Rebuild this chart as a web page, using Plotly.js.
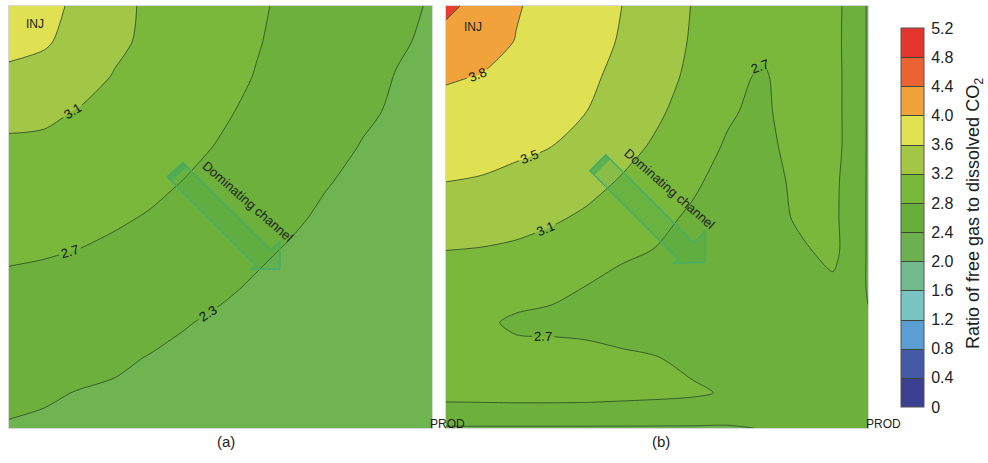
<!DOCTYPE html>
<html>
<head>
<meta charset="utf-8">
<script src="https://cdn.plot.ly/plotly-3.0.1.min.js"></script>
<style>html,body{margin:0;padding:0;background:#fff;}#chart{width:988px;height:463px;}</style>
</head>
<body>
<div id="chart"></div>
<script>
// Grid node positions (panel-relative units, origin at the injector corner)
const xGrid = [0, 35, 70, 105, 140, 175, 210, 245, 280, 315, 350, 385, 420];
const yGrid = [0, 35, 70, 105, 140, 175, 210, 245, 280, 315, 350, 385, 420];

// (a) ratio of free gas to dissolved CO2, rows top -> bottom
const ratioA = [
  [3.75, 3.60, 3.43, 3.20, 3.04, 2.94, 2.84, 2.74, 2.64, 2.54, 2.45, 2.36, 2.28],
  [3.60, 3.54, 3.38, 3.17, 3.03, 2.93, 2.82, 2.72, 2.62, 2.52, 2.43, 2.33, 2.26],
  [3.43, 3.38, 3.24, 3.08, 2.99, 2.89, 2.79, 2.69, 2.59, 2.49, 2.39, 2.29, 2.25],
  [3.20, 3.17, 3.08, 3.01, 2.93, 2.83, 2.74, 2.64, 2.54, 2.44, 2.34, 2.27, 2.22],
  [3.04, 3.03, 2.99, 2.93, 2.85, 2.77, 2.68, 2.58, 2.48, 2.38, 2.29, 2.25, 2.20],
  [2.94, 2.93, 2.89, 2.83, 2.77, 2.69, 2.60, 2.50, 2.41, 2.31, 2.26, 2.22, 2.17],
  [2.84, 2.82, 2.79, 2.74, 2.68, 2.60, 2.51, 2.42, 2.33, 2.27, 2.23, 2.19, 2.14],
  [2.74, 2.72, 2.69, 2.64, 2.58, 2.50, 2.42, 2.33, 2.28, 2.24, 2.20, 2.16, 2.11],
  [2.64, 2.62, 2.59, 2.54, 2.48, 2.41, 2.33, 2.28, 2.24, 2.20, 2.16, 2.12, 2.08],
  [2.54, 2.52, 2.49, 2.44, 2.38, 2.31, 2.27, 2.24, 2.20, 2.17, 2.13, 2.09, 2.05],
  [2.45, 2.43, 2.39, 2.34, 2.29, 2.26, 2.23, 2.20, 2.16, 2.13, 2.09, 2.05, 2.02],
  [2.36, 2.33, 2.29, 2.27, 2.25, 2.22, 2.19, 2.16, 2.12, 2.09, 2.05, 2.02, 2.02],
  [2.28, 2.26, 2.25, 2.22, 2.20, 2.17, 2.14, 2.11, 2.08, 2.05, 2.02, 2.02, 2.02]
];

// (b) ratio of free gas to dissolved CO2, rows top -> bottom
const ratioB = [
  [4.30, 4.05, 3.82, 3.71, 3.60, 3.50, 3.30, 3.09, 3.00, 2.95, 2.90, 2.85, 2.27],
  [4.05, 3.92, 3.79, 3.69, 3.59, 3.48, 3.28, 3.07, 2.96, 2.80, 2.88, 2.84, 2.27],
  [3.83, 3.79, 3.70, 3.65, 3.56, 3.42, 3.23, 3.03, 2.84, 2.64, 2.95, 2.85, 2.27],
  [3.71, 3.69, 3.65, 3.58, 3.50, 3.33, 3.15, 2.96, 2.75, 2.60, 2.95, 2.85, 2.27],
  [3.60, 3.59, 3.56, 3.50, 3.36, 3.21, 3.05, 2.87, 2.66, 2.55, 2.88, 2.85, 2.27],
  [3.50, 3.48, 3.42, 3.33, 3.21, 3.07, 2.92, 2.76, 2.57, 2.52, 2.79, 2.80, 2.27],
  [3.29, 3.28, 3.23, 3.15, 3.05, 2.92, 2.79, 2.65, 2.52, 2.50, 2.75, 2.79, 2.27],
  [3.09, 3.07, 3.03, 2.96, 2.87, 2.76, 2.68, 2.55, 2.50, 2.48, 2.62, 2.80, 2.27],
  [3.00, 2.98, 2.92, 2.80, 2.69, 2.58, 2.52, 2.48, 2.46, 2.45, 2.50, 2.62, 2.28],
  [2.90, 2.79, 2.62, 2.60, 2.57, 2.53, 2.50, 2.47, 2.45, 2.45, 2.47, 2.52, 2.32],
  [2.88, 2.86, 2.85, 2.85, 2.83, 2.76, 2.71, 2.60, 2.55, 2.50, 2.48, 2.47, 2.36],
  [2.85, 2.86, 2.87, 2.87, 2.86, 2.83, 2.80, 2.76, 2.66, 2.55, 2.50, 2.48, 2.42],
  [2.27, 2.27, 2.27, 2.27, 2.27, 2.27, 2.27, 2.27, 2.27, 2.31, 2.36, 2.40, 2.42]
];

// Colour bar levels and tick labels
const cbLevels = [0, 0.4, 0.8, 1.2, 1.6, 2.0, 2.4, 2.8, 3.2, 3.6, 4.0, 4.4, 4.8, 5.2];
const cbTickText = ['0', '0.4', '0.8', '1.2', '1.6', '2.0', '2.4', '2.8', '3.2', '3.6', '4.0', '4.4', '4.8', '5.2'];
const cbColors = ['#3b3f8f', '#4559a6', '#5a9ed4', '#78c5c4', '#70ba8e', '#6cb050', '#69af3b',
                  '#7ab83a', '#a3c645', '#e1e252', '#f1a23a', '#ea6433', '#e3352c'];

const FONT = 'Arial, "Liberation Sans", sans-serif';

const mainScale = [[0, '#6fb451'], [0.25, '#6db03b'], [0.5, '#7ab83b'], [0.75, '#a2c646'], [1, '#e0e152']];
const topScale = [[0, 'rgba(0,0,0,0)'], [0.5, '#f1a23a'], [1, '#e6402e']];
const lineStyle = {color: 'rgba(45,80,40,0.85)', width: 1, smoothing: 0.8};
const labelFont = {family: FONT, size: 13, color: '#111'};

function mainTrace(z, xa, ya) {
  return {
    type: 'contour', x: xGrid, y: yGrid, z: z, xaxis: xa, yaxis: ya,
    autocontour: false,
    contours: {start: 2.3, end: 3.5, size: 0.4, coloring: 'fill', showlines: true,
               showlabels: true, labelfont: labelFont},
    colorscale: mainScale, showscale: false, line: lineStyle, hoverinfo: 'skip'
  };
}

const traces = [
  mainTrace(ratioA, 'x', 'y'),
  mainTrace(ratioB, 'x2', 'y2'),
  {
    type: 'contour', x: xGrid, y: yGrid, z: ratioB, xaxis: 'x2', yaxis: 'y2',
    autocontour: false,
    contours: {start: 3.8, end: 4.2, size: 0.4, coloring: 'fill', showlines: true,
               showlabels: true, labelfont: labelFont},
    colorscale: topScale, showscale: false, line: lineStyle, hoverinfo: 'skip'
  },
  {
    type: 'contour', z: [cbLevels, cbLevels], xaxis: 'x3', yaxis: 'y3',
    zmin: 0, zmax: 5.2, zauto: false, autocontour: false,
    contours: {start: 0.4, end: 4.8, size: 0.4, coloring: 'fill', showlines: true},
    line: {color: '#3d4535', width: 1},
    colorscale: cbColors.map((c, i) => [i / 12, c]),
    opacity: 0, hoverinfo: 'skip', showscale: true,
    colorbar: {
      x: 901 / 988, xanchor: 'left', xpad: 0, ypad: 0,
      y: 1 - 217.5 / 463, yanchor: 'middle', len: 379 / 463, lenmode: 'fraction',
      thickness: 23, outlinecolor: '#555', outlinewidth: 1,
      tickmode: 'array', tickvals: cbLevels, ticktext: cbTickText,
      ticks: 'outside', ticklen: 4, tickcolor: 'rgba(0,0,0,0)',
      tickfont: {family: FONT, size: 16, color: '#222'},
      title: {text: ''}
    }
  }
];

const axBase = {range: [0, 420], showgrid: false, zeroline: false, showticklabels: false,
                ticks: '', showline: true, mirror: true, linecolor: '#d5d8d5', linewidth: 1, fixedrange: true};
const yBase = Object.assign({}, axBase, {range: [420, 0]});
const yDom = [1 - 428 / 463, 1 - 6 / 463];

const arrowA = 'M157,170 L245,258 L241,262 L269,262 L269,234 L260,243 L172.7,155.7 Z';
const arrowB = 'M143.3,164 L230.9,251.6 L227,256 L258,255 L258,224 L246.75,235.75 L159,148 Z';
const tailA = 'M157,170 L161,174 L176.7,159.7 L172.7,155.7 Z';
const tailB = 'M143.3,164 L147.3,168 L163,152 L159,148 Z';
const arrowStyle = {fillcolor: 'rgba(60,165,80,0.25)', line: {color: '#46ae68', width: 1.5}};
const tailStyle = {fillcolor: 'rgba(60,165,90,0.55)', line: {color: '#46ae68', width: 1}};

const ann = (o) => Object.assign({showarrow: false, xanchor: 'center', yanchor: 'middle',
                                  font: {family: FONT, size: 12, color: '#222'}}, o);

const layout = {
  width: 988, height: 463,
  margin: {l: 0, r: 0, t: 0, b: 0},
  paper_bgcolor: '#ffffff', plot_bgcolor: '#ffffff',
  showlegend: false, hovermode: false,
  xaxis: Object.assign({}, axBase, {domain: [9 / 988, 432 / 988], anchor: 'y'}),
  yaxis: Object.assign({}, yBase, {domain: yDom, anchor: 'x'}),
  xaxis2: Object.assign({}, axBase, {domain: [446 / 988, 868 / 988], anchor: 'y2'}),
  yaxis2: Object.assign({}, yBase, {domain: yDom, anchor: 'x2'}),
  xaxis3: {domain: [0.995, 1], visible: false, anchor: 'y3'},
  yaxis3: {domain: [0, 0.005], visible: false, anchor: 'x3'},
  shapes: [
    Object.assign({type: 'path', xref: 'x', yref: 'y', path: arrowA}, arrowStyle),
    Object.assign({type: 'path', xref: 'x', yref: 'y', path: tailA}, tailStyle),
    Object.assign({type: 'path', xref: 'x2', yref: 'y2', path: arrowB}, arrowStyle),
    Object.assign({type: 'path', xref: 'x2', yref: 'y2', path: tailB}, tailStyle)
  ],
  annotations: [
    ann({xref: 'x', yref: 'y', x: 26, y: 18, text: 'INJ'}),
    ann({xref: 'x2', yref: 'y2', x: 27, y: 21, text: 'INJ'}),
    ann({xref: 'x', yref: 'y', x: 416, y: 416, xanchor: 'left', text: 'PROD'}),
    ann({xref: 'x2', yref: 'y2', x: 416, y: 416, xanchor: 'left', text: 'PROD'}),
    ann({xref: 'x', yref: 'y', x: 237, y: 195, text: 'Dominating channel', textangle: 41,
         font: {family: FONT, size: 13, color: '#222'}}),
    ann({xref: 'x2', yref: 'y2', x: 222, y: 182, text: 'Dominating channel', textangle: 41,
         font: {family: FONT, size: 13, color: '#222'}}),
    ann({xref: 'paper', yref: 'paper', x: 226 / 988, y: 1 - 441 / 463, text: '(a)',
         font: {family: FONT, size: 15, color: '#222'}}),
    ann({xref: 'paper', yref: 'paper', x: 661 / 988, y: 1 - 441 / 463, text: '(b)',
         font: {family: FONT, size: 15, color: '#222'}}),
    ann({xref: 'paper', yref: 'paper', x: 974 / 988, y: 1 - 214 / 463, textangle: -90,
         text: 'Ratio of free gas to dissolved CO<sub>2</sub>',
         font: {family: FONT, size: 18, color: '#222'}})
  ]
};

Plotly.newPlot('chart', traces, layout, {displayModeBar: false, staticPlot: true});
</script>
</body>
</html>
